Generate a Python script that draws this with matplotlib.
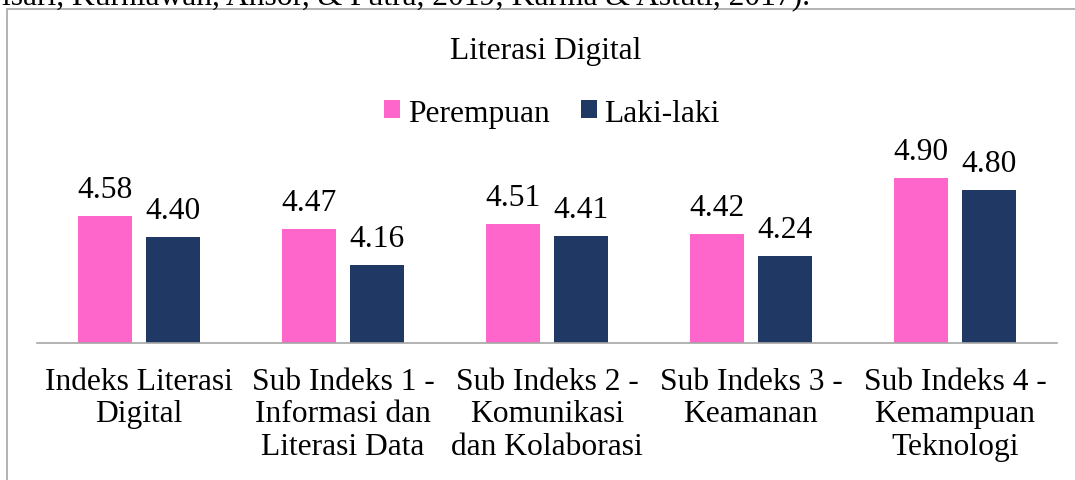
import matplotlib
matplotlib.use("Agg")
import matplotlib.pyplot as plt
import numpy as np
from matplotlib.patches import Rectangle

categories = ["Indeks Literasi\nDigital",
              "Sub Indeks 1 -\nInformasi dan\nLiterasi Data",
              "Sub Indeks 2 -\nKomunikasi\ndan Kolaborasi",
              "Sub Indeks 3 -\nKeamanan",
              "Sub Indeks 4 -\nKemampuan\nTeknologi"]
perempuan = [4.58, 4.47, 4.51, 4.42, 4.90]
laki_laki = [4.40, 4.16, 4.41, 4.24, 4.80]
series_names = ["Perempuan", "Laki-laki"]
title = "Literasi Digital"
top_text = "isari, Kurniawan, Ansor, & Putra, 2019; Karma & Astuti, 2017)."

W, H = 1075, 481
plt.rcParams['font.family'] = ['Liberation Serif', 'DejaVu Serif']
FS = 22.7
fig = plt.figure(figsize=(W/100, H/100), dpi=100)

# page frame
fig.patches.append(Rectangle((7/W, -0.1), 1.2, (H-10)/H + 0.1, transform=fig.transFigure,
                             fill=False, edgecolor='#a6a6a6', linewidth=1.2))
fig.text(2/W, 1 - 4/H, top_text, fontsize=FS, va='baseline', ha='left', color='black')

ax = fig.add_axes([37/W, (H-344)/H, 1020/W, 177/H])
x = np.arange(len(categories))
bw = 0.265
off = 0.167
pink = '#FF66CC'
navy = '#203864'
b1 = ax.bar(x - off, perempuan, bw, color=pink, label=series_names[0])
b2 = ax.bar(x + off, laki_laki, bw, color=navy, label=series_names[1])
ax.set_ylim(3.5, 5.0)
ax.set_xlim(-0.5, len(categories) - 0.5)
for bars, vals in ((b1, perempuan), (b2, laki_laki)):
    for r, v in zip(bars, vals):
        ax.annotate(f"{v:.2f}", (r.get_x() + r.get_width()/2, v), xytext=(0, 13.7),
                    textcoords='offset points', ha='center', va='baseline', fontsize=FS)

for s in ['top', 'right', 'left']:
    ax.spines[s].set_visible(False)
ax.spines['bottom'].set_color('#a6a6a6')
ax.spines['bottom'].set_linewidth(1.2)
ax.set_yticks([])
ax.set_xticks(x)
ax.set_xticklabels(categories, fontsize=FS, linespacing=1.16)
ax.tick_params(axis='x', length=0, pad=17)
ax.set_facecolor('none')

fig.text(546/W, 1 - 51/H, title, fontsize=FS, ha='center', va='center')
leg = fig.legend(handles=[b1, b2], loc='center', bbox_to_anchor=(552/W, 1 - 114/H),
                 ncol=2, frameon=False, fontsize=FS, handlelength=0.5, handleheight=0.5,
                 handletextpad=0.25, columnspacing=1.0)

fig.savefig("out.png", dpi=100)
